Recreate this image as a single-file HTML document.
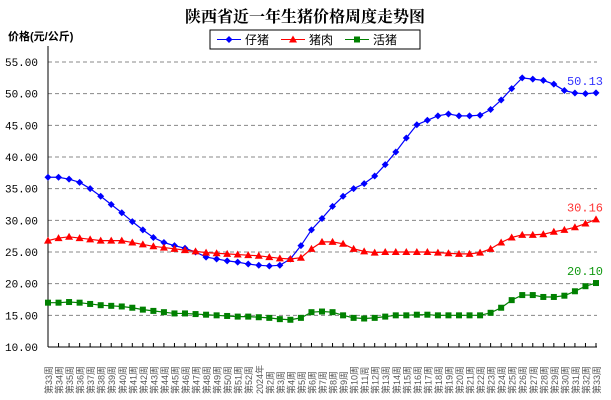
<!DOCTYPE html><html><head><meta charset="utf-8"><style>body{margin:0;background:#fff}svg{display:block}</style></head><body>
<svg id="s" width="611" height="400" xmlns="http://www.w3.org/2000/svg" font-family="Liberation Sans, Noto Sans CJK SC, sans-serif"></svg>
<script>
const s=document.getElementById('s');let h='';
const X0=48,DX=548/52,Y=v=>347-(v-10)*6.333;
h+='<text x="305" y="22" text-anchor="middle" font-size="16" font-weight="bold" font-family="Noto Serif CJK SC, serif">陕西省近一年生猪价格周度走势图</text>';
h+='<text x="8" y="40" font-size="11" font-weight="bold">价格(元/公斤)</text>';
for(let v=10;v<=55;v+=5){const y=Y(v);if(v>10)h+=`<line x1="48" x2="597" y1="${y}" y2="${y}" stroke="#888" stroke-dasharray="4,3"/>`;h+=`<text x="38" y="${y+4}" font-size="11" text-anchor="end" font-family="Liberation Mono, monospace">${v.toFixed(2)}</text>`;}
h+='<line x1="48" x2="48" y1="46" y2="347" stroke="#000"/><line x1="48" x2="597" y1="347" y2="347" stroke="#000"/>';
const labs=[];for(let i=33;i<=52;i++)labs.push('第'+i+'周');labs.push('2024年');for(let i=2;i<=33;i++)labs.push('第'+i+'周');
labs.forEach((l,i)=>{const x=X0+i*DX;h+=`<line x1="${x}" x2="${x}" y1="347" y2="343" stroke="#000"/><text transform="translate(${x+4},394) rotate(-90)" font-size="9" fill="#555">${l}</text>`;});
const B=[36.8,36.8,36.5,36,35,33.8,32.5,31.2,29.8,28.5,27.3,26.5,26,25.6,25,24.2,23.9,23.6,23.4,23.1,22.9,22.8,22.9,23.9,26,28.5,30.3,32.2,33.8,35,35.8,37,38.8,40.8,43,45.1,45.8,46.5,46.8,46.5,46.5,46.6,47.5,49,50.8,52.5,52.3,52.1,51.5,50.5,50.1,50,50.13];
const R=[26.8,27.2,27.4,27.2,27,26.8,26.8,26.8,26.5,26.2,25.9,25.7,25.5,25.3,25.1,24.9,24.8,24.7,24.6,24.5,24.4,24.2,24,23.9,24.1,25.5,26.6,26.6,26.3,25.5,25.1,24.9,25,25,25,25,25,24.9,24.8,24.7,24.7,24.9,25.5,26.5,27.3,27.7,27.7,27.8,28.2,28.5,28.9,29.5,30.16];
const G=[17,17,17.1,17,16.8,16.6,16.5,16.4,16.2,15.9,15.7,15.5,15.3,15.3,15.2,15.1,15,14.9,14.8,14.8,14.7,14.6,14.4,14.3,14.6,15.5,15.6,15.5,15,14.6,14.5,14.6,14.8,15,15,15.1,15.1,15,15,15,15,15,15.4,16.2,17.4,18.2,18.2,17.9,17.9,18.1,18.8,19.6,20.1];
function ser(d,c,m){h+=`<polyline fill="none" stroke="${c}" stroke-width="1.2" points="${d.map((v,i)=>(X0+i*DX)+','+Y(v)).join(' ')}"/>`;
d.forEach((v,i)=>{const x=X0+i*DX,y=Y(v);h+=mk(x,y,c,m);});}
function mk(x,y,c,m){if(m=='d')return `<polygon points="${x},${y-3.5} ${x+3.5},${y} ${x},${y+3.5} ${x-3.5},${y}" fill="${c}"/>`;if(m=='t')return `<polygon points="${x},${y-4} ${x+4},${y+3} ${x-4},${y+3}" fill="${c}"/>`;return `<rect x="${x-3}" y="${y-3}" width="6" height="6" fill="${c}"/>`;}
ser(B,'#0000ff','d');ser(R,'#ff0000','t');ser(G,'#008000','s');
const F='font-family="Liberation Mono, monospace" font-size="12"';
h+=`<text x="603" y="${Y(50.13)-8}" text-anchor="end" ${F} fill="#3333ff">50.13</text>`;
h+=`<text x="603" y="${Y(30.16)-8}" text-anchor="end" ${F} fill="#ff3333">30.16</text>`;
h+=`<text x="603" y="${Y(20.1)-8}" text-anchor="end" ${F} fill="#119911">20.10</text>`;
h+='<rect x="210" y="30" width="210" height="19" fill="#fff" stroke="#000"/>';
[['仔猪','#0000ff','d',217],['猪肉','#ff0000','t',281],['活猪','#008000','s',345]].forEach(([t,c,m,x])=>{h+=`<line x1="${x}" x2="${x+24}" y1="39.5" y2="39.5" stroke="${c}"/>`+mk(x+12,39.5,c,m)+`<text x="${x+28}" y="44" font-size="12">${t}</text>`;});
s.innerHTML=h;
</script></body></html>
